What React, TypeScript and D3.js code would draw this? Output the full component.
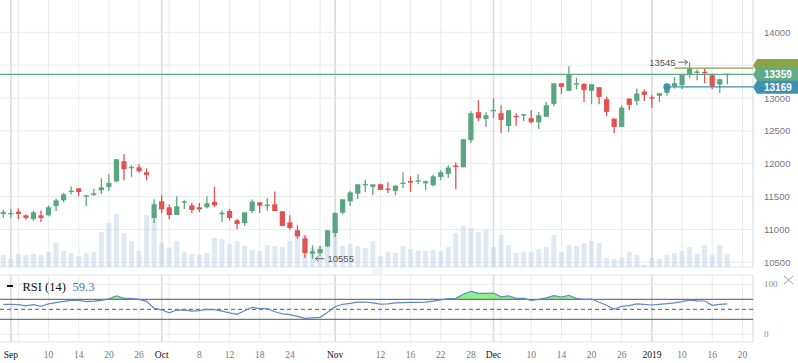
import React from 'react';
import * as d3 from 'd3';

// OHLC per trading day (index 0 = last day of Aug 2018)
const openVals = [11236, 11230, 11271, 11215, 11159, 11215, 11215, 11357, 11443, 11565, 11626, 11500, 11525, 11596, 11646, 11733, 12038, 11921, 11946, 11870,
  11174, 11428, 11337, 11220, 11408, 11367, 11337, 11337, 11418, 11230, 11281, 11139, 11098, 11281, 11413, 11357, 11383, 11276, 11109, 10987,
  10865, 10631, 10641, 10743, 10946, 11256, 11428, 11545, 11672, 11647, 11687, 11611, 11586, 11692, 11738, 11728, 11702, 11672, 11799, 11845,
  11961, 11946, 12357, 12784, 12682, 12794, 12768, 12575, 12718, 12733, 12692, 12631, 12713, 12910, 13225, 13109, 13200, 13215, 13109, 13165,
  12982, 12687, 12560, 12992, 12956, 13098, 13002, 13033, 13078, 13180, 13195, 13357, 13373, 13388, 13347, 13205, 13347];
const highVals = [11301, 11316, 11322, 11230, 11286, 11291, 11367, 11469, 11555, 11657, 11626, 11520, 11621, 11778, 11845, 12070, 12144, 11977, 11992, 11931,
  11459, 11520, 11378, 11505, 11444, 11403, 11403, 11505, 11647, 11291, 11312, 11164, 11261, 11454, 11413, 11474, 11576, 11281, 11215, 11063,
  10911, 10758, 10753, 10990, 11256, 11464, 11586, 11687, 11758, 11687, 11697, 11718, 11667, 11870, 11809, 11839, 11748, 11834, 11900, 11977,
  12022, 12373, 12799, 12967, 12784, 12997, 12890, 12814, 12768, 12758, 12814, 12789, 12941, 13225, 13225, 13484, 13312, 13225, 13210, 13165,
  13017, 12687, 12890, 12992, 13144, 13129, 13043, 13073, 13215, 13317, 13357, 13545, 13439, 13449, 13373, 13296, 13373];
const lowVals = [11174, 11179, 11159, 11149, 11129, 11113, 11200, 11281, 11413, 11530, 11504, 11357, 11510, 11540, 11586, 11718, 11748, 11799, 11865, 11748,
  11098, 11251, 11154, 11220, 11312, 11251, 11266, 11322, 11342, 11113, 11139, 11007, 11053, 11251, 11251, 11286, 11281, 11048, 10997, 10860,
  10565, 10555, 10601, 10733, 10885, 11230, 11357, 11464, 11570, 11520, 11601, 11555, 11520, 11631, 11570, 11692, 11601, 11657, 11753, 11784,
  11611, 11946, 12317, 12647, 12560, 12692, 12469, 12484, 12575, 12652, 12616, 12530, 12713, 12880, 13063, 13109, 13134, 12941, 12905, 12905,
  12728, 12469, 12560, 12814, 12890, 12956, 12850, 12941, 13033, 13144, 13134, 13307, 13271, 13225, 13134, 13078, 13210];
const closeVals = [11266, 11240, 11235, 11174, 11261, 11174, 11337, 11443, 11535, 11580, 11570, 11510, 11550, 11641, 11707, 12068, 11916, 11941, 11885, 11829,
  11383, 11306, 11220, 11352, 11418, 11296, 11306, 11398, 11367, 11256, 11174, 11083, 11261, 11423, 11362, 11367, 11281, 11053, 11022, 10895,
  10641, 10667, 10702, 10987, 11251, 11459, 11565, 11687, 11682, 11687, 11601, 11601, 11667, 11702, 11712, 11738, 11733, 11809, 11870, 11941,
  11951, 12373, 12769, 12693, 12738, 12809, 12667, 12814, 12697, 12743, 12631, 12738, 12890, 13225, 13170, 13357, 13215, 13124, 13210, 13017,
  12789, 12560, 12855, 12895, 13068, 13048, 12992, 13073, 13205, 13225, 13357, 13449, 13393, 13378, 13180, 13286, 13359];
const volumeVals = [300, 200, 325, 300, 325, 300, 375, 600, 400, 350, 275, 350, 375, 875, 1100, 1325, 850, 650, 400, 1300,
  1225, 600, 475, 650, 375, 325, 300, 350, 725, 700, 575, 650, 525, 425, 400, 550, 525, 500, 650, 800,
  800, 475, 525, 750, 1125, 525, 575, 525, 475, 650, 275, 375, 350, 525, 450, 400, 400, 425, 400, 500,
  850, 1025, 975, 875, 925, 500, 800, 550, 350, 375, 375, 450, 500, 800, 375, 550, 525, 600, 650, 600,
  225, 200, 250, 375, 300, 50, 225, 200, 300, 350, 400, 500, 325, 550, 300, 550, 325];
const rsiVals = [60, 60, 59.5, 57, 59.3, 56, 61, 63.5, 66, 68, 68.5, 65.5, 66.5, 68, 71, 77, 72, 72, 70, 66,
  52, 49, 43, 48.5, 49, 46.5, 47.3, 50, 49.5, 46.5, 43, 40, 47, 54, 51.3, 51.3, 45, 41, 39.5, 36,
  32, 33, 34, 44, 55, 60, 62, 64.5, 64.6, 63, 60.5, 61, 63, 63.5, 63.8, 64, 64.5, 66.5, 69, 71.5,
  72, 80, 86, 82, 82, 82.6, 75, 77, 72, 72, 68, 70, 73, 77.3, 74.6, 78, 72, 70, 70.6, 64,
  58, 50, 56, 57.3, 61, 60, 58.6, 60, 61.3, 63, 65.5, 68.5, 67, 66.6, 58, 60, 61];

// 13500 sits under the price boxes in the original, so it is left out
const priceTicks = [10500, 11000, 11500, 12000, 12500, 13000, 14000];
const gridTicks = [10500, 11000, 11500, 12000, 12500, 13000, 13500, 14000];
const monthTicks = [1, 21, 44, 65, 86];
const monthLabels = ['Sep', 'Oct', 'Nov', 'Dec', '2019'];
const dayTicks = [2, 6, 10, 14, 18, 22, 26, 30, 34, 38, 42, 46, 50, 54, 58, 62, 66, 70, 74, 78, 82, 86, 90, 94, 98];
const dayLabels = ['', '10', '14', '20', '26', '', '8', '12', '18', '24', '', '', '12', '16', '22', '28', '', '10', '14', '20', '26', '', '10', '16', '20'];

const lastPrice = 13359;
const avgPrice = 13169;
const avgStart = 88;
const highLine = 13456;
const highLineStart = 89;
const hiIdx = 91, hiLabel = '13545';
const loIdx = 41, loLabel = '10555';
const rsiLevels = [30, 50, 70];
const rsiTicks = [0, 100];

const UP = '#5aa680';
const DOWN = '#e2524f';

export default function App() {
  const width = 798;
  const right = 753;
  const mainBottom = 267;

  const x = d3.scaleLinear().domain([0, openVals.length - 1]).range([3.3, 727.3]);
  const y = d3.scaleLinear().domain([10500, 14000]).range([262.3, 32.3]);
  const yVol = d3.scaleLinear().domain([0, 1500]).range([mainBottom, 207]);
  const yRsi = d3.scaleLinear().domain([0, 100]).range([334.3, 284.3]);

  const rsiLine = d3.line<number>().x((d, i) => x(i)).y(d => yRsi(d));
  const rsiArea = d3.area<number>().x((d, i) => x(i)).y0(yRsi(70)).y1(d => yRsi(d));

  const sans = '"Liberation Sans", Arial, sans-serif';
  const serif = '"Liberation Serif", "Times New Roman", serif';

  const box = (cy: number) => `M${right},${cy} L${right + 4},${cy - 6.5} L${width},${cy - 6.5} L${width},${cy + 6.5} L${right + 4},${cy + 6.5} Z`;

  // little arrows next to the high / low marks
  const hiX = x(hiIdx) - 2, hiY = y(highVals[hiIdx]);
  const loX = x(loIdx) + 3, loY = y(lowVals[loIdx]);
  const arrowR = `M${hiX - 9},${hiY} H${hiX} M${hiX - 3},${hiY - 2.5} L${hiX},${hiY} L${hiX - 3},${hiY + 2.5}`;
  const arrowL = `M${loX},${loY} H${loX + 9} M${loX + 3},${loY - 2.5} L${loX},${loY} L${loX + 3},${loY + 2.5}`;

  return (
    <svg width={width} height={363} style={{ position: 'absolute', left: 0, top: 0, background: '#fff' }}>
      <defs>
        <clipPath id="above70">
          <rect x={0} y={270} width={right} height={yRsi(70) - 270} />
        </clipPath>
      </defs>

      {/* vertical grid */}
      {dayTicks.map(t => (
        <g key={'d' + t}>
          <line x1={x(t)} x2={x(t)} y1={0} y2={mainBottom} stroke="#e8eaed" />
          <line x1={x(t)} x2={x(t)} y1={275} y2={342} stroke="#e8eaed" />
        </g>
      ))}
      {monthTicks.map(t => (
        <g key={'m' + t}>
          <line x1={x(t)} x2={x(t)} y1={0} y2={mainBottom} stroke="#d6d9dd" strokeWidth={1.5} />
          <line x1={x(t)} x2={x(t)} y1={275} y2={342} stroke="#d6d9dd" strokeWidth={1.5} />
        </g>
      ))}

      {/* horizontal grid + price axis */}
      {gridTicks.map(p => (
        <line key={'g' + p} x1={0} x2={right} y1={y(p)} y2={y(p)} stroke="#e8eaed" />
      ))}
      {priceTicks.map(p => (
        <text key={p} x={764} y={y(p) + 3.5} fontSize={9.5} fontFamily={sans} fill="#777">{p}</text>
      ))}
      <line x1={0} x2={right} y1={mainBottom} y2={mainBottom} stroke="#e3e5e8" />
      <line x1={right} x2={right} y1={0} y2={mainBottom} stroke="#d6d9dd" />

      {/* volume */}
      {volumeVals.map((v, i) => (
        <rect key={'v' + i} x={x(i) - 2.5} y={yVol(v)} width={5} height={mainBottom - yVol(v)} fill="#b7cfe4" opacity={0.45} />
      ))}

      {/* candles */}
      {openVals.map((o, i) => {
        const c = closeVals[i];
        const col = c >= o ? UP : DOWN;
        const top = y(Math.max(o, c));
        const h = Math.max(1.4, Math.abs(y(o) - y(c)));
        return (
          <g key={'c' + i}>
            <line x1={x(i)} x2={x(i)} y1={y(highVals[i])} y2={y(lowVals[i])} stroke={col} strokeWidth={1.3} />
            <rect x={x(i) - 2.6} y={h === 1.4 ? top - 0.7 : top} width={5.2} height={h} fill={col} />
          </g>
        );
      })}

      {/* reference lines */}
      <line x1={x(highLineStart)} x2={right} y1={y(highLine)} y2={y(highLine)} stroke="#8ba446" strokeWidth={1.2} />
      <line x1={0} x2={right} y1={y(lastPrice)} y2={y(lastPrice)} stroke="#5ea882" strokeWidth={1.2} />
      <line x1={x(avgStart)} x2={right} y1={y(avgPrice)} y2={y(avgPrice)} stroke="#3f8fb3" strokeWidth={1.2} />
      <circle cx={x(avgStart)} cy={y(avgPrice)} r={3.6} fill="#3f8fb3" />

      <path d={box(65.5)} fill="#8ba446" />
      <path d={box(y(lastPrice))} fill="#62aa86" />
      <text x={764} y={y(lastPrice) + 3.5} fontSize={10} fontWeight="bold" fontFamily={sans} fill="#fff">{lastPrice}</text>
      <path d={box(y(avgPrice) + 0.3)} fill="#3f8fb3" />
      <text x={764} y={y(avgPrice) + 3.8} fontSize={10} fontWeight="bold" fontFamily={sans} fill="#fff">{avgPrice}</text>

      {/* high / low markers */}
      <text x={hiX - 12} y={hiY + 3.5} textAnchor="end" fontSize={9.5} fontFamily={sans} fill="#555">{hiLabel}</text>
      <path d={arrowR} fill="none" stroke="#555" strokeWidth={0.9} />
      <text x={loX + 12} y={loY + 3.5} fontSize={9.5} fontFamily={sans} fill="#555">{loLabel}</text>
      <path d={arrowL} fill="none" stroke="#555" strokeWidth={0.9} />

      {/* panel handle */}
      {[0, 2, 4].map(d => (
        <line key={'h' + d} x1={372} x2={383} y1={269 + d} y2={269 + d} stroke="#dcdcdc" strokeWidth={0.7} />
      ))}

      {/* RSI panel */}
      <line x1={0} x2={right} y1={275} y2={275} stroke="#e3e5e8" />
      <line x1={0} x2={right} y1={342} y2={342} stroke="#e3e5e8" />
      <line x1={right} x2={right} y1={275} y2={342} stroke="#d6d9dd" />
      {rsiTicks.map(t => (
        <g key={'r' + t}>
          <line x1={0} x2={right} y1={yRsi(t)} y2={yRsi(t)} stroke="#e8eaed" />
          <text x={764} y={yRsi(t) + 3} fontSize={9} fontFamily={serif} fill="#888">{t}</text>
        </g>
      ))}
      <path d={rsiArea(rsiVals) || ''} fill="#8ef08a" clipPath="url(#above70)" />
      {rsiLevels.map(l => (
        <line key={'l' + l} x1={0} x2={right} y1={yRsi(l)} y2={yRsi(l)} stroke="#555" strokeWidth={1} strokeDasharray={l === 50 ? '4,3' : undefined} />
      ))}
      <path d={rsiLine(rsiVals) || ''} fill="none" stroke="#5f88c8" strokeWidth={1.2} />
      <line x1={784} x2={793} y1={276} y2={284} stroke="#999" />
      <line x1={784} x2={793} y1={284} y2={276} stroke="#999" />

      <line x1={7} x2={13} y1={286} y2={286} stroke="#111" strokeWidth={2} />
      <text x={22.5} y={290.5} fontSize={12.5} fontFamily={serif} fill="#111">RSI (14)</text>
      <text x={72.5} y={290.5} fontSize={12.5} fontFamily={serif} fill="#4a78b8">59.3</text>

      {/* x axis */}
      {dayTicks.map((t, i) => dayLabels[i] ? (
        <text key={'dl' + t} x={x(t)} y={357.5} textAnchor="middle" fontSize={9.5} fontFamily={serif} fill="#777">{dayLabels[i]}</text>
      ) : null)}
      {monthTicks.map((t, i) => (
        <text key={'ml' + t} x={x(t)} y={357.5} textAnchor="middle" fontSize={9.5} fontFamily={serif} fill="#111">{monthLabels[i]}</text>
      ))}
    </svg>
  );
}
